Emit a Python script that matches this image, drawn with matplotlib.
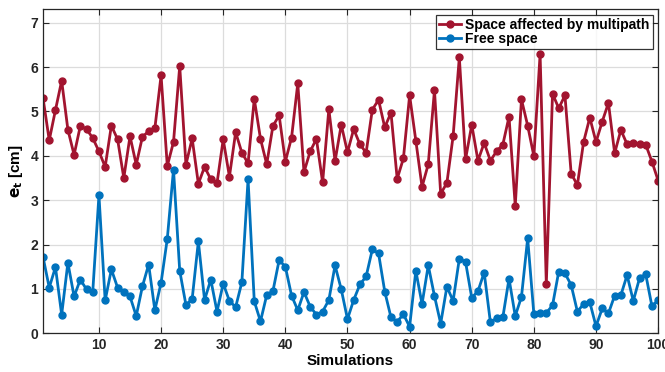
import numpy as np
from matplotlib import pyplot

sims = np.arange(1, 101)

multipath = [5.30, 4.35, 5.03, 5.69, 4.59, 4.02, 4.67, 4.60, 4.40, 4.10,
             3.75, 4.68, 4.37, 3.50, 4.44, 3.80, 4.43, 4.55, 4.62, 5.81,
             3.77, 4.31, 6.02, 3.80, 4.39, 3.37, 3.75, 3.47, 3.38, 4.37,
             3.53, 4.53, 4.07, 3.83, 5.28, 4.38, 3.81, 4.67, 4.91, 3.87,
             4.41, 5.63, 3.63, 4.10, 4.38, 3.40, 5.05, 3.88, 4.70, 4.08,
             4.60, 4.26, 4.07, 5.04, 5.26, 4.64, 4.97, 3.48, 3.94, 5.36,
             4.34, 3.30, 3.81, 5.48, 3.14, 3.39, 4.44, 6.22, 3.92, 4.70,
             3.89, 4.29, 3.89, 4.10, 4.25, 4.88, 2.87, 5.27, 4.68, 3.99,
             6.29, 1.11, 5.40, 5.07, 5.36, 3.60, 3.34, 4.31, 4.86, 4.31,
             4.77, 5.19, 4.06, 4.58, 4.26, 4.29, 4.26, 4.25, 3.87, 3.44]

free = [1.72, 1.03, 1.49, 0.42, 1.59, 0.83, 1.21, 0.99, 0.93, 3.11,
        0.74, 1.44, 1.03, 0.93, 0.83, 0.39, 1.06, 1.55, 0.52, 1.14,
        2.13, 3.69, 1.41, 0.64, 0.77, 2.07, 0.75, 1.21, 0.49, 1.12,
        0.73, 0.59, 1.15, 3.47, 0.72, 0.27, 0.86, 0.95, 1.65, 1.50,
        0.85, 0.52, 0.93, 0.60, 0.42, 0.49, 0.75, 1.53, 0.99, 0.32,
        0.75, 1.10, 1.28, 1.89, 1.80, 0.94, 0.36, 0.26, 0.43, 0.15,
        1.41, 0.66, 1.53, 0.84, 0.22, 1.05, 0.73, 1.68, 1.61, 0.80,
        0.95, 1.37, 0.25, 0.34, 0.36, 1.23, 0.39, 0.82, 2.14, 0.43,
        0.45, 0.46, 0.63, 1.39, 1.35, 1.09, 0.49, 0.66, 0.70, 0.16,
        0.56, 0.45, 0.85, 0.86, 1.31, 0.73, 1.24, 1.33, 0.61, 0.75]

pyplot.rcParams['font.family'] = ['Liberation Sans', 'DejaVu Sans']
pyplot.rcParams['font.weight'] = 'bold'

fig = pyplot.figure(figsize=(6.65, 3.72), dpi=100)
ax = fig.add_axes([0.0647, 0.104, 0.925, 0.871])

ax.plot(sims, multipath, '-o', color='#A2142F', lw=2, ms=5,
        label='Space affected by multipath')
ax.plot(sims, free, '-o', color='#0072BD', lw=2, ms=5,
        label='Free space')

ax.set_xlim(1, 100)
ax.set_ylim(0, 7.3)
ax.set_xticks(np.arange(10, 101, 10))
ax.set_yticks(np.arange(0, 8, 1))
ax.grid(True, color='#dcdcdc', lw=0.9)
ax.set_axisbelow(True)
ax.tick_params(direction='in', top=True, right=True, labelsize=10,
               colors='#262626', length=4)
for s in ax.spines.values():
    s.set_color('#262626')
    s.set_linewidth(0.9)

ax.set_xlabel('Simulations', fontsize=11, fontweight='bold', labelpad=1)
ax.set_ylabel(r'$\mathbf{e_t}$ [cm]', fontsize=11, fontweight='bold', labelpad=4)

leg = ax.legend(loc='upper right', fontsize=10, frameon=True, fancybox=False,
                edgecolor='black', borderpad=0.2, handlelength=1.6,
                handletextpad=0.3, labelspacing=0.05, borderaxespad=0.4)
leg.get_frame().set_linewidth(0.9)

pyplot.savefig('out.png', dpi=100)
